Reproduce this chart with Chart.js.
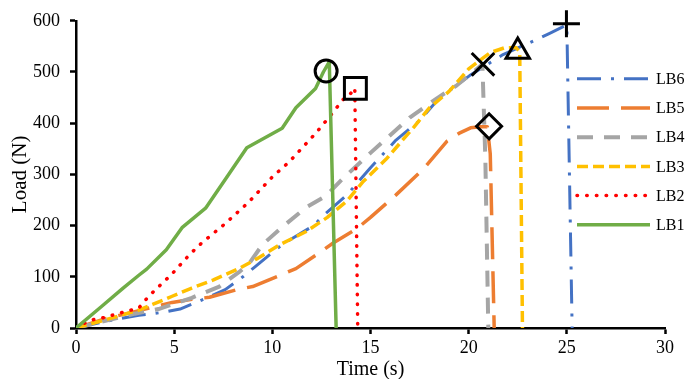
<!DOCTYPE html>
<html>
<head>
<meta charset="utf-8">
<script src="https://cdn.jsdelivr.net/npm/chart.js@4.4.0/dist/chart.umd.min.js"></script>
<style>
    html, body { margin: 0; padding: 0; background: #fff; }
    #wrap { width: 685px; height: 379px; }
</style>
</head>
<body>
<div id="wrap"><canvas id="loadChart"></canvas></div>
<script>
// Load vs time
const lb1Time = [0, 1.3, 2.4, 3.2, 3.6, 4.6, 5.4, 6.6, 7.6, 8.7, 10.5, 11.2, 12.2, 12.6, 12.9, 13.25];
const lb1Load = [0, 42, 78, 103, 115, 153, 196, 234, 290, 352, 390, 430, 468, 500, 520, 0];

const lb2Time = [0, 0.7, 1.5, 2.4, 3.2, 3.7, 4.3, 4.9, 5.8, 6.4, 7.6, 8.8, 10.0, 10.9, 12.2, 12.9, 13.6, 13.95, 14.2, 14.35];
const lb2Load = [0, 15, 21, 31, 39, 62, 84, 106, 144, 166, 204, 246, 295, 326, 380, 412, 446, 456, 469, 0];

const lb3Time = [0, 1.5, 3.2, 3.9, 4.9, 5.9, 7.0, 8.3, 9.2, 10.4, 11.7, 12.8, 13.8, 14.6, 15.8, 17.2, 18.0, 19.0, 20.0, 21.1, 21.8, 22.4, 22.6, 22.74];
const lb3Load = [0, 16, 35, 46, 62, 78, 94, 116, 135, 163, 188, 216, 248, 285, 330, 392, 430, 462, 506, 538, 547, 548, 540, 0];

const lb4Time = [0, 1.5, 3.0, 4.2, 5.9, 7.3, 8.3, 8.8, 9.5, 10.5, 11.7, 12.7, 13.6, 15.0, 17.0, 18.4, 19.4, 20.7, 20.85, 21.0];
const lb4Load = [0, 14, 28, 37, 59, 81, 109, 125, 163, 197, 235, 257, 292, 342, 411, 449, 474, 515, 330, 0];

const lb5Time = [0, 1.5, 3.2, 4.9, 5.9, 6.8, 8.2, 9.0, 10.4, 11.2, 12.4, 13.1, 14.3, 15.0, 16.3, 17.7, 18.9, 19.5, 20.1, 20.6, 20.95, 21.1, 21.3];
const lb5Load = [0, 18, 34, 50, 56, 60, 75, 81, 103, 116, 147, 166, 194, 216, 260, 311, 365, 380, 391, 393, 393, 340, 0];

const lb6Time = [0, 1.5, 3.2, 3.7, 4.5, 5.3, 6.3, 7.6, 8.5, 9.1, 9.7, 10.5, 12.1, 12.7, 13.8, 15.0, 16.3, 17.5, 18.5, 20.05, 21.75, 23.1, 24.1, 25.0, 25.27];
const lb6Load = [0, 13, 25, 27, 31, 37, 53, 75, 100, 119, 138, 163, 200, 223, 260, 313, 367, 405, 449, 493, 534, 557, 575, 592, 0];

// failure markers: LB1 circle, LB2 square, LB5 diamond, LB4 x, LB3 triangle, LB6 plus
const failTime = [12.74, 14.23, 21.04, 20.73, 22.5, 24.98];
const failLoad = [502, 468, 394, 515, 540, 594];

const serif = '"Liberation Serif", "Times New Roman", serif';

function toPoints(xs, ys) {
    return xs.map((x, i) => ({ x: x, y: ys[i] }));
}

function lineSet(label, xs, ys, color, width, dash, cap) {
    return {
        label: label,
        data: toPoints(xs, ys),
        showLine: true,
        borderColor: color,
        backgroundColor: color,
        borderWidth: width,
        borderDash: dash,
        borderCapStyle: cap || 'butt',
        borderJoinStyle: 'round',
        pointRadius: 0,
        pointHoverRadius: 0,
        tension: 0
    };
}

// legend drawn at the right inside the plot, LB6 on top
const sideLegend = {
    id: 'sideLegend',
    afterDraw(chart) {
        const ctx = chart.ctx;
        const area = chart.chartArea;
        const items = chart.data.datasets.filter(d => d.label).slice().reverse();
        const x0 = area.right - 88;
        const x1 = area.right - 15;
        ctx.save();
        ctx.font = '16px ' + serif;
        ctx.textBaseline = 'middle';
        ctx.textAlign = 'left';
        items.forEach((ds, i) => {
            const y = area.top + 58 + i * 29.2;
            ctx.beginPath();
            ctx.strokeStyle = ds.borderColor;
            ctx.lineWidth = ds.borderWidth;
            ctx.lineCap = ds.borderCapStyle;
            ctx.setLineDash(ds.borderDash);
            ctx.moveTo(x0, y);
            ctx.lineTo(x1, y);
            ctx.stroke();
            ctx.setLineDash([]);
            ctx.fillStyle = '#000';
            ctx.fillText(ds.label, x1 + 6, y + 1);
        });
        ctx.restore();
    }
};

const markers = {
    data: toPoints(failTime, failLoad),
    pointStyle: ['circle', 'rect', 'rectRot', 'crossRot', 'triangle', 'cross'],
    pointRadius: [11, 15.5, 12.5, 16, 13.5, 13.5],
    pointHoverRadius: [11, 15.5, 12.5, 16, 13.5, 13.5],
    pointBorderWidth: 3,
    pointBorderColor: '#000',
    pointBackgroundColor: 'rgba(0,0,0,0)',
    showLine: false,
    clip: false,
    order: -1
};

new Chart(document.getElementById('loadChart'), {
    type: 'scatter',
    data: {
        datasets: [
            markers,
            lineSet('LB1', lb1Time, lb1Load, '#70AD47', 3.5, []),
            lineSet('LB2', lb2Time, lb2Load, '#FF0000', 3.5, [0.5, 9.2], 'round'),
            lineSet('LB3', lb3Time, lb3Load, '#FFC000', 3.5, [11, 5]),
            lineSet('LB4', lb4Time, lb4Load, '#A5A5A5', 4, [16, 11]),
            lineSet('LB5', lb5Time, lb5Load, '#ED7D31', 3.5, [32, 12]),
            lineSet('LB6', lb6Time, lb6Load, '#4472C4', 3, [24, 10, 3, 10])
        ]
    },
    options: {
        responsive: true,
        maintainAspectRatio: false,
        animation: false,
        events: [],
        layout: { padding: { left: 0, right: 20, top: 10, bottom: 0 } },
        plugins: {
            legend: { display: false },
            tooltip: { enabled: false }
        },
        scales: {
            x: {
                type: 'linear',
                min: 0,
                max: 30,
                afterFit: s => { s.height = 51; },
                ticks: { stepSize: 5, color: '#000', padding: 3, font: { family: serif, size: 18 } },
                grid: { drawOnChartArea: false, color: '#000', tickLength: 6, tickWidth: 2.5 },
                border: { color: '#000', width: 2.5 },
                title: {
                    display: true,
                    text: 'Time (s)',
                    color: '#000',
                    font: { family: serif, size: 20, lineHeight: 0.8 },
                    padding: { top: 0, bottom: 1 }
                }
            },
            y: {
                min: 0,
                max: 600,
                afterFit: s => { s.width = 76; },
                ticks: { stepSize: 100, color: '#000', padding: 10, font: { family: serif, size: 18 } },
                grid: { drawOnChartArea: false, color: '#000', tickLength: 6, tickWidth: 2.5 },
                border: { color: '#000', width: 2.5 },
                title: {
                    display: true,
                    text: 'Load (N)',
                    color: '#000',
                    font: { family: serif, size: 21, lineHeight: 0.8 },
                    padding: { top: 12, bottom: 0 }
                }
            }
        }
    },
    plugins: [sideLegend]
});
</script>
</body>
</html>
